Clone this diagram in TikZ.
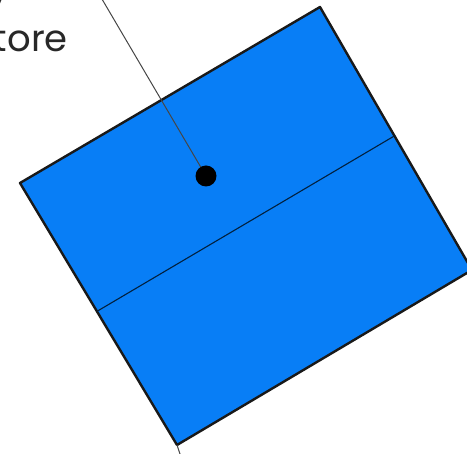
\documentclass[tikz,border=0pt]{standalone}
\usepackage{fontspec}
\setmainfont{Poppins}
\usetikzlibrary{calc}
\definecolor{boxblue}{RGB}{8,126,246}
\definecolor{txtgray}{RGB}{40,40,40}
\definecolor{leadgray}{RGB}{70,70,70}
\tikzset{
  boxshape/.style={fill=boxblue, draw=black!90, line width=2.4pt, line join=round},
  midline/.style={draw=black!75!boxblue, line width=1.1pt},
  dotnode/.style={circle, fill=black, inner sep=0pt, minimum size=21pt},
  leader/.style={draw=leadgray, line width=1pt},
  label/.style={font=\fontsize{37}{44}\selectfont, text=txtgray, inner sep=0pt}
}
\begin{document}
\begin{tikzpicture}[x=1pt,y=-1pt]
\useasboundingbox (0,0) rectangle (467,454);
\coordinate (A) at (20,183);
\coordinate (B) at (320,7);
\coordinate (C) at (472,270);
\coordinate (D) at (177,445);
\path[boxshape] (A) -- (B) -- (C) -- (D) -- cycle;
\coordinate (ML) at ($(A)!0.49!(D)$);
\coordinate (MR) at ($(B)!0.49!(C)$);
\draw[midline] (ML) -- (MR);
\coordinate (lead) at (99,-6);
\coordinate (tail) at (182,460);
\draw[leader] (206,176) -- (lead);
\draw[leader] (D) -- (tail);
\node[dotnode] (dot) at (206,176) {};
\node[label, anchor=base east] (t1) at (68,52) {tore};
\node[label, anchor=base east] (t2) at (11,2) {y};
\end{tikzpicture}
\end{document}
